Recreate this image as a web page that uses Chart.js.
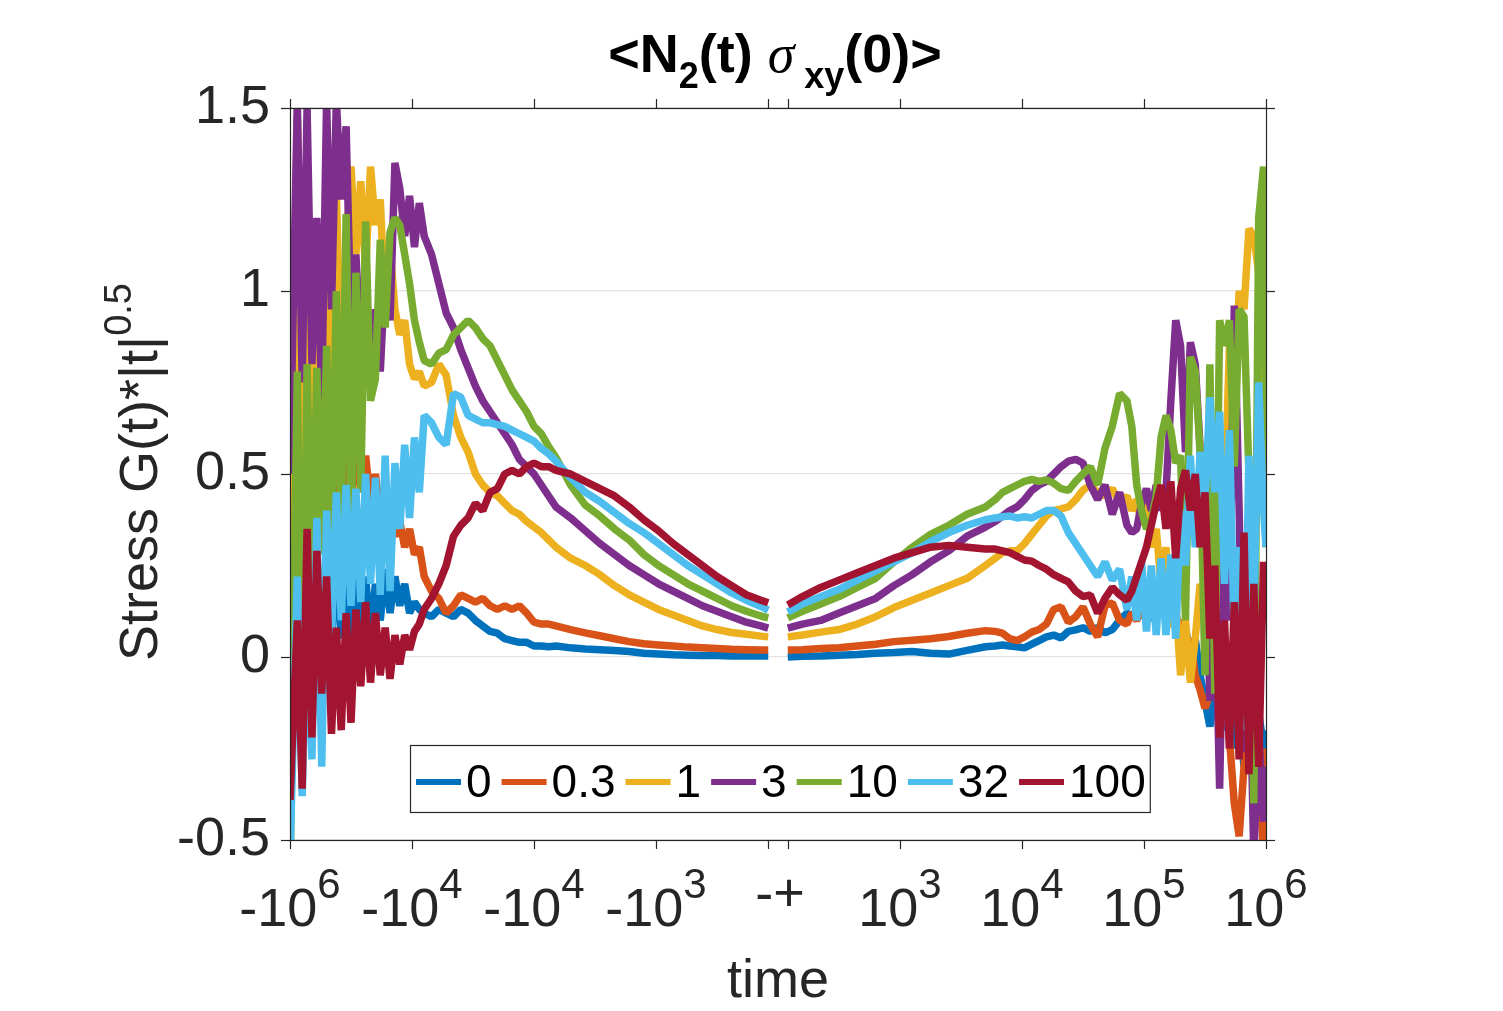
<!DOCTYPE html>
<html>
<head>
<meta charset="utf-8">
<script src="https://cdn.jsdelivr.net/npm/chart.js@4.4.0/dist/chart.umd.min.js"></script>
<style>
  html, body { margin: 0; padding: 0; background: #fff; }
</style>
</head>
<body>
<canvas id="grafico" width="1503" height="1011"></canvas>
<script>
// posiciones en el eje (decadas desde el centro), lado negativo y positivo
const tiempoIzq = [-4.00,-3.94,-3.90,-3.86,-3.82,-3.78,-3.74,-3.70,-3.66,-3.62,-3.58,-3.54,-3.50,-3.46,-3.42,-3.38,-3.34,-3.30,-3.26,-3.22,-3.18,-3.14,-3.10,-3.06,-3.02,-2.98,-2.94,-2.90,
  -2.84,-2.78,-2.72,-2.66,-2.60,-2.54,-2.48,-2.42,-2.36,-2.30,-2.24,-2.18,-2.12,-2.06,-2.00,-1.94,-1.88,-1.82,
  -1.70,-1.58,-1.46,-1.34,-1.22,-1.10,-0.98,-0.86,-0.74,-0.62,-0.50,-0.38,-0.26,-0.14,-0.08];
const tiempoDer = [0.08,0.20,0.35,0.50,0.65,0.80,0.95,1.10,1.25,1.40,1.55,1.70,
  1.78,1.84,1.90,1.96,2.02,2.08,2.14,2.20,2.26,2.32,2.38,2.44,2.50,2.56,2.62,2.68,2.74,2.80,2.86,
  2.90,2.94,2.98,3.02,3.06,3.10,3.14,3.18,3.22,3.26,3.30,3.34,3.38,3.42,3.46,3.50,3.54,3.58,3.62,3.66,3.70,3.74,3.78,3.82,3.86,3.90,3.94,3.98,4.00];

const izq0 = [-0.20,0.30,-0.25,0.25,-0.10,0.30,-0.05,0.28,0.00,0.35,0.05,0.38,0.02,0.25,0.00,0.22,0.05,0.20,0.10,0.24,0.12,0.22,0.14,0.20,0.12,0.15,0.13,0.12,
  0.11,0.13,0.12,0.11,0.13,0.12,0.10,0.085,0.07,0.065,0.05,0.045,0.04,0.04,0.03,0.03,0.028,0.03,
  0.025,0.022,0.02,0.018,0.015,0.01,0.008,0.006,0.005,0.004,0.004,0.003,0.003,0.003,0.003];
const der0 = [0.0,0.002,0.003,0.005,0.007,0.01,0.012,0.015,0.01,0.008,0.018,0.028,
  0.03,0.033,0.03,0.028,0.025,0.035,0.045,0.055,0.06,0.052,0.07,0.074,0.08,0.07,0.08,0.066,0.075,0.10,0.12,
  0.11,0.13,0.12,0.15,0.10,0.14,0.12,0.15,0.10,0.12,0.05,0.08,0.0,0.05,-0.05,-0.12,-0.19,-0.10,-0.05,-0.20,-0.10,-0.25,-0.15,-0.30,-0.10,-0.30,-0.15,-0.25,-0.20];

const izq03 = [0.20,1.48,0.45,1.25,0.30,0.90,0.35,0.75,0.25,0.62,0.30,0.58,0.40,0.62,0.45,0.55,0.42,0.50,0.38,0.45,0.36,0.33,0.37,0.30,0.35,0.28,0.30,0.22,
  0.18,0.16,0.12,0.14,0.17,0.16,0.15,0.16,0.14,0.13,0.14,0.13,0.14,0.12,0.095,0.09,0.09,0.085,
  0.075,0.066,0.058,0.05,0.042,0.036,0.033,0.03,0.027,0.025,0.023,0.021,0.02,0.019,0.019];
const der03 = [0.019,0.02,0.023,0.025,0.03,0.035,0.042,0.046,0.05,0.056,0.065,0.072,
  0.07,0.065,0.05,0.045,0.055,0.068,0.075,0.09,0.13,0.137,0.095,0.11,0.137,0.09,0.055,0.14,0.148,0.10,0.09,
  0.12,0.10,0.13,0.10,0.14,0.11,0.15,0.12,0.14,0.08,0.10,0.02,0.05,-0.05,-0.09,-0.14,-0.10,-0.05,-0.15,-0.08,-0.22,-0.40,-0.49,-0.30,-0.15,-0.35,-0.23,-0.55,-0.25];

const izq1 = [0.30,1.05,0.40,0.95,0.55,1.10,0.45,1.22,0.60,1.27,0.75,1.10,1.34,1.10,1.30,1.05,1.34,1.18,1.25,0.95,1.12,0.95,0.88,0.92,0.80,0.76,0.78,0.74,
  0.75,0.80,0.77,0.66,0.60,0.56,0.50,0.47,0.45,0.44,0.42,0.40,0.39,0.37,0.355,0.34,0.32,0.30,
  0.27,0.25,0.225,0.195,0.17,0.15,0.13,0.115,0.10,0.085,0.075,0.067,0.062,0.057,0.055];
const der1 = [0.055,0.06,0.068,0.075,0.09,0.11,0.135,0.155,0.175,0.195,0.215,0.25,
  0.27,0.285,0.29,0.29,0.31,0.335,0.36,0.385,0.40,0.405,0.41,0.43,0.456,0.47,0.45,0.44,0.46,0.42,0.44,
  0.40,0.43,0.36,0.42,0.30,0.35,0.20,0.30,0.08,0.15,-0.05,0.10,-0.07,0.05,0.20,0.10,0.45,0.30,0.60,0.40,0.85,0.70,1.00,0.95,1.17,1.15,1.05,0.60,0.30];

const izq3 = [0.50,1.52,0.75,1.50,0.80,1.20,0.70,1.52,0.95,1.52,1.25,1.45,0.90,1.10,0.85,1.00,0.80,0.95,0.78,1.05,0.92,1.35,1.28,1.15,1.26,1.12,1.24,1.15,
  1.10,1.02,0.94,0.90,0.84,0.79,0.74,0.70,0.67,0.64,0.61,0.58,0.54,0.52,0.50,0.47,0.44,0.41,
  0.38,0.345,0.31,0.28,0.25,0.225,0.20,0.18,0.16,0.14,0.125,0.11,0.095,0.085,0.079];
const der3 = [0.079,0.09,0.10,0.12,0.14,0.16,0.195,0.225,0.26,0.29,0.33,0.355,
  0.37,0.385,0.40,0.41,0.43,0.455,0.47,0.48,0.50,0.52,0.535,0.54,0.53,0.47,0.43,0.47,0.39,0.45,0.36,
  0.34,0.35,0.42,0.46,0.40,0.47,0.40,0.45,0.70,0.92,0.85,0.56,0.86,0.80,0.57,0.40,-0.12,0.20,-0.36,0.30,0.10,0.96,0.40,-0.26,0.10,-0.55,-0.20,-0.45,-0.30];

const izq10 = [-0.60,0.78,-0.30,0.80,0.15,0.79,0.28,0.85,0.30,1.00,0.35,1.21,0.32,1.05,0.45,1.19,0.70,0.76,1.14,0.90,1.16,1.20,1.18,1.10,1.02,0.92,0.86,0.81,
  0.80,0.83,0.84,0.88,0.90,0.92,0.90,0.87,0.85,0.81,0.77,0.73,0.70,0.67,0.63,0.61,0.575,0.545,
  0.47,0.415,0.385,0.35,0.32,0.28,0.25,0.225,0.20,0.18,0.16,0.14,0.125,0.112,0.107];
const der10 = [0.107,0.125,0.145,0.165,0.19,0.215,0.26,0.30,0.335,0.36,0.39,0.41,
  0.43,0.45,0.46,0.47,0.48,0.485,0.48,0.484,0.475,0.46,0.455,0.48,0.50,0.52,0.47,0.57,0.63,0.72,0.70,
  0.63,0.47,0.40,0.35,0.37,0.44,0.60,0.66,0.62,0.53,0.55,0.10,0.82,0.78,0.56,-0.05,0.80,-0.10,0.92,0.85,0.92,0.52,0.95,0.93,0.50,-0.40,1.20,1.34,0.45];

const izq32 = [-0.55,0.22,-0.38,0.15,-0.28,0.38,-0.30,0.40,0.05,0.45,0.10,0.47,0.14,0.46,0.15,0.50,0.20,0.49,0.17,0.55,0.18,0.53,0.35,0.58,0.38,0.60,0.45,0.66,
  0.64,0.60,0.58,0.72,0.71,0.66,0.65,0.64,0.64,0.635,0.63,0.62,0.61,0.60,0.59,0.57,0.555,0.535,
  0.49,0.45,0.425,0.395,0.365,0.34,0.31,0.28,0.25,0.225,0.20,0.175,0.155,0.138,0.128];
const der32 = [0.123,0.145,0.165,0.185,0.21,0.235,0.26,0.285,0.315,0.34,0.36,0.375,
  0.38,0.383,0.385,0.38,0.383,0.38,0.39,0.40,0.40,0.385,0.34,0.31,0.28,0.25,0.22,0.26,0.21,0.24,0.13,
  0.22,0.10,0.26,0.07,0.25,0.06,0.27,0.06,0.28,0.05,0.40,0.25,0.55,0.30,0.56,0.42,0.71,0.45,0.67,0.20,0.62,0.05,0.30,-0.20,0.55,0.10,0.75,0.40,0.30];

const izq100 = [-0.39,0.10,-0.36,0.35,-0.22,0.29,-0.10,0.22,-0.21,0.08,-0.20,0.12,-0.18,0.13,-0.08,0.15,-0.07,0.12,-0.05,0.08,-0.06,0.06,-0.02,0.06,0.02,0.07,0.09,0.13,
  0.16,0.20,0.25,0.33,0.36,0.38,0.42,0.40,0.45,0.46,0.50,0.51,0.50,0.52,0.53,0.52,0.52,0.51,
  0.50,0.48,0.46,0.44,0.41,0.375,0.345,0.31,0.28,0.25,0.22,0.195,0.17,0.155,0.148];
const der100 = [0.142,0.165,0.19,0.21,0.23,0.25,0.27,0.285,0.30,0.305,0.30,0.295,
  0.295,0.29,0.285,0.275,0.265,0.262,0.25,0.24,0.225,0.215,0.205,0.18,0.165,0.17,0.12,0.16,0.19,0.17,0.155,
  0.18,0.22,0.26,0.30,0.36,0.42,0.47,0.35,0.48,0.27,0.46,0.51,0.40,0.50,0.30,0.45,0.05,0.25,-0.22,0.10,-0.25,0.15,-0.28,0.34,-0.32,0.20,-0.30,0.26,0.10];

const etiquetas = ['0', '0.3', '1', '3', '10', '32', '100'];
const ticksX = [-4, -3, -2, -1, -0.08, 0.08, 1, 2, 3, 4];
const posEtiquetasX = [-4, -3, -2, -1, 0, 1, 2, 3, 4];
const etiquetasX = ['-10^6', '-10^4', '-10^4', '-10^3', '-+', '10^3', '10^4', '10^5', '10^6'];
const ticksY = [-0.5, 0, 0.5, 1, 1.5];

const izquierda = [izq0, izq03, izq1, izq3, izq10, izq32, izq100];
const derecha = [der0, der03, der1, der3, der10, der32, der100];
const colores = ['#0072BD', '#D95319', '#EDB120', '#7E2F8E', '#77AC30', '#4DBEEE', '#A2142F'];
const fuente = '"Liberation Sans", Arial, Helvetica, sans-serif';
const gris = '#262626';

const datasets = etiquetas.map((et, i) => ({
  label: et,
  data: tiempoIzq.map((t, k) => ({ x: t, y: izquierda[i][k] }))
    .concat([{ x: 0, y: null }])
    .concat(tiempoDer.map((t, k) => ({ x: t, y: derecha[i][k] }))),
  borderColor: colores[i],
  borderWidth: 7.5,
  borderJoinStyle: 'bevel',
  pointRadius: 0,
  spanGaps: false,
  clip: 0,
  order: etiquetas.length - i   // el ultimo queda encima, como en matlab
}));

// dibuja un texto hecho de trozos con distinta fuente / desplazamiento vertical
function trozos(ctx, partes, x, y, alinear) {
  let ancho = 0;
  partes.forEach(p => { ctx.font = p[1]; ancho += ctx.measureText(p[0]).width; });
  let cx = alinear === 'center' ? x - ancho / 2 : x;
  ctx.textAlign = 'left';
  ctx.textBaseline = 'alphabetic';
  partes.forEach(p => {
    ctx.font = p[1];
    ctx.fillText(p[0], cx, y + p[2]);
    cx += ctx.measureText(p[0]).width;
  });
}

function linea(ctx, x1, y1, x2, y2) {
  ctx.beginPath();
  ctx.moveTo(x1, y1);
  ctx.lineTo(x2, y2);
  ctx.stroke();
}

function anchoLeyenda(ctx) {
  ctx.font = '46px ' + fuente;
  let ancho = 0;
  etiquetas.forEach(et => { ancho += 50 + ctx.measureText(et).width + 10; });
  return ancho;
}

// fondo blanco de la leyenda, encima de las curvas
const fondoLeyenda = {
  id: 'fondoLeyenda',
  afterDatasetsDraw(chart) {
    const ctx = chart.ctx;
    ctx.save();
    const ancho = anchoLeyenda(ctx);
    ctx.fillStyle = '#fff';
    ctx.fillRect(410, 745, ancho, 67);
    ctx.restore();
  }
};

const marco = {
  id: 'marco',
  afterDraw(chart) {
    const { ctx, chartArea: a, scales: { x, y } } = chart;
    ctx.save();

    // caja y marcas hacia fuera
    ctx.strokeStyle = gris;
    ctx.lineWidth = 1.2;
    ctx.strokeRect(a.left + 0.5, a.top + 0.5, a.right - a.left, a.bottom - a.top);
    ticksX.forEach(v => {
      const px = Math.round(x.getPixelForValue(v)) + 0.5;
      linea(ctx, px, a.bottom, px, a.bottom + 9);
      linea(ctx, px, a.top, px, a.top - 9);
    });
    ticksY.forEach(v => {
      const py = Math.round(y.getPixelForValue(v)) + 0.5;
      linea(ctx, a.left, py, a.left - 9, py);
      linea(ctx, a.right, py, a.right + 9, py);
    });

    // etiquetas del eje x con exponentes
    ctx.fillStyle = gris;
    const fBase = '54px ' + fuente, fExp = '42px ' + fuente;
    etiquetasX.forEach((et, i) => {
      const px = x.getPixelForValue(posEtiquetasX[i]);
      if (et.includes('^')) {
        const [b, e] = et.split('^');
        trozos(ctx, [[b, fBase, 0], [e, fExp, -28]], px, 926, 'center');
      } else {
        trozos(ctx, [[et, fBase, 0]], px + 2, 911, 'center');
      }
    });

    // titulos de ejes
    trozos(ctx, [['time', fBase, 0]], (a.left + a.right) / 2, 997, 'center');
    ctx.save();
    ctx.translate(157, 472);
    ctx.rotate(-Math.PI / 2);
    trozos(ctx, [['Stress G(t)*|t|', fBase, 0], ['0.5', '38px ' + fuente, -26]], 0, 0, 'center');
    ctx.restore();

    // titulo
    ctx.fillStyle = '#000';
    const fT = 'bold 54px ' + fuente, fS = 'bold 36px ' + fuente;
    trozos(ctx, [['<N', fT, 0], ['2', fS, 16], ['(t) ', fT, 0], ['\u03C3', 'italic 54px "Liberation Serif", serif', 0],
      [' ', fS, 0], ['xy', fS, 16], ['(0)>', fT, 0]], 775, 72, 'center');

    // leyenda horizontal dentro del grafico
    const ancho = anchoLeyenda(ctx);
    ctx.font = '46px ' + fuente;
    let lx = 416;
    const ly = 782;
    etiquetas.forEach((et, i) => {
      ctx.strokeStyle = colores[i];
      ctx.lineWidth = 6;
      linea(ctx, lx, ly, lx + 45, ly);
      ctx.fillStyle = '#000';
      ctx.textAlign = 'left';
      ctx.textBaseline = 'middle';
      ctx.fillText(et, lx + 50, ly + 2);
      lx += 50 + ctx.measureText(et).width + 10;
    });
    ctx.strokeStyle = gris;
    ctx.lineWidth = 1.2;
    ctx.strokeRect(410.5, 745.5, ancho, 67);

    ctx.restore();
  }
};

new Chart(document.getElementById('grafico').getContext('2d'), {
  type: 'line',
  data: { datasets },
  options: {
    responsive: false,
    animation: false,
    layout: { padding: { top: 108, right: 237, left: 0, bottom: 0 } },
    plugins: {
      legend: { display: false },
      tooltip: { enabled: false },
      title: { display: false }
    },
    scales: {
      x: {
        type: 'linear',
        min: -4,
        max: 4,
        grid: { display: false },
        border: { display: false },
        ticks: { display: false },
        afterFit(s) { s.height = 171; }
      },
      y: {
        min: -0.5,
        max: 1.5,
        ticks: {
          stepSize: 0.5,
          color: gris,
          padding: 20,
          font: { size: 54, family: fuente },
          callback: v => String(v)
        },
        grid: { color: '#e3e3e3', drawTicks: false, lineWidth: 1.2 },
        border: { display: false },
        afterFit(s) { s.width = 290; }
      }
    }
  },
  plugins: [fondoLeyenda, marco]
});
</script>
</body>
</html>
